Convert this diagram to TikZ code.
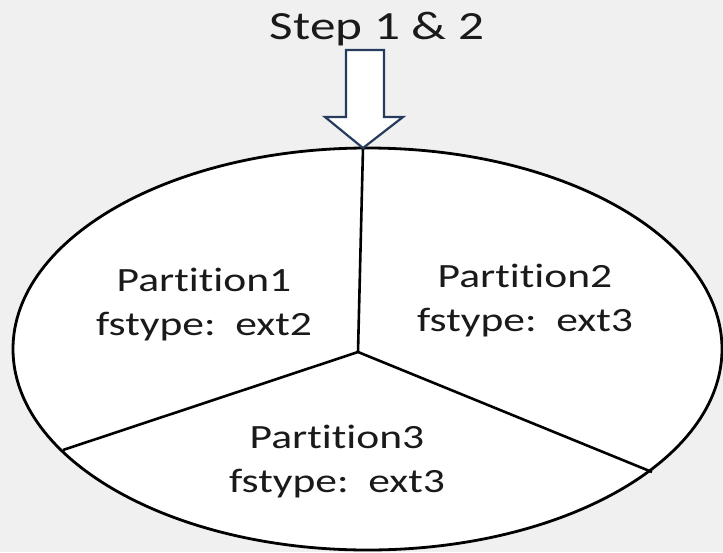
\documentclass[tikz,border=0pt]{standalone}
\usepackage{fontspec}
\setmainfont{Carlito}[FakeStretch=1.28, Ligatures={NoCommon}]
\usetikzlibrary{shapes.geometric}
\definecolor{bg}{HTML}{F0F0F0}
\definecolor{navy}{HTML}{263B5E}
\definecolor{ink}{HTML}{1A1A1A}
\tikzset{
  disk/.style={ellipse, draw=black, fill=white, line width=2.8pt, inner sep=0pt,
    minimum width=709pt, minimum height=402pt},
  divider/.style={draw=black, line width=2.6pt},
  label/.style={text=ink, font=\fontsize{34}{44}\selectfont, align=center, inner sep=0pt, anchor=base},
  blockarrow/.style={draw=navy, fill=white, line width=2.2pt, line join=miter}
}
\begin{document}
\begin{tikzpicture}[x=1pt,y=-1pt]
\fill[bg] (0,0) rectangle (723,552);
\useasboundingbox (0,0) rectangle (723,552);
\node[disk] (disk) at (367.5,349) {};
\coordinate (c) at (358,352);
\coordinate (top) at (363,148);
\coordinate (left) at (63,450);
\coordinate (right) at (652,472);
\draw[divider] (c) -- (top);
\draw[divider] (c) -- (left);
\draw[divider] (c) -- (right);
\draw[blockarrow] (346,50) -- (384,50) -- (384,117) -- (403,117) -- (top) -- (325,117) -- (346,117) -- cycle;
\node[text=ink, font=\fontsize{40}{48}\selectfont, inner sep=0pt, anchor=base] (step) at (377,39) {Step 1 \& 2};
\node[label] (p1) at (204,335) {Partition1\\fstype:\ \ ext2};
\node[label] (p2) at (525,331) {Partition2\\fstype:\ \ ext3};
\node[label] (p3) at (337,492) {Partition3\\fstype:\ \ ext3};
\end{tikzpicture}
\end{document}
